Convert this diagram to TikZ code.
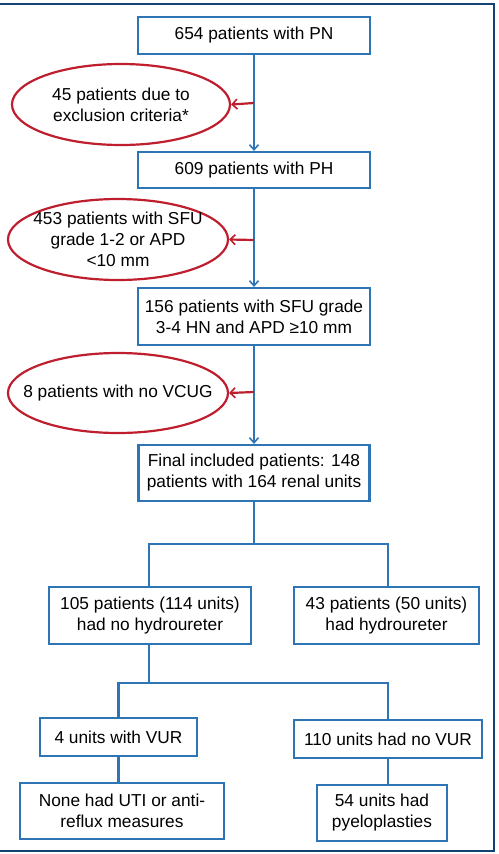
\documentclass[tikz,border=0pt]{standalone}
\usepackage{fontspec}
\setmainfont{Liberation Sans}
\usetikzlibrary{arrows.meta,shapes.geometric}
\definecolor{boxblue}{RGB}{46,117,182}
\definecolor{exred}{RGB}{190,30,45}
\definecolor{framenavy}{RGB}{20,66,115}
\begin{document}
\begin{tikzpicture}[x=1pt,y=-1pt,
  txt/.style={font=\fontsize{17.3}{21}\selectfont, align=center, inner sep=0pt},
  bbox/.style={txt, draw=boxblue, line width=2.2pt, rectangle},
  exell/.style={draw=exred, line width=2.2pt, ellipse, inner sep=0pt},
  flow/.style={draw=boxblue, line width=2.2pt},
  flowarr/.style={flow, -{Straight Barb[length=5pt,width=9pt,line width=1.6pt]}},
  exarr/.style={draw=exred, line width=2.2pt, -{Straight Barb[length=5pt,width=10pt,line width=1.6pt]}}]
\useasboundingbox (0,0) rectangle (498,854);
% frame
\draw[framenavy, line width=1.6pt] (0,4) -- (494,4) -- (494,851) -- (0,851);
% boxes
\node[bbox, minimum width=232, minimum height=37] (b1) at (254,35.5) {654 patients with PN};
\node[bbox, minimum width=232, minimum height=36] (b2) at (254,170) {609 patients with PH};
\node[bbox, minimum width=232, minimum height=57] (b3) at (254,316.5) {156 patients with SFU grade\\3-4 HN and APD ≥10 mm};
\node[bbox, minimum width=231, minimum height=56] (b4) at (254,473) {Final included patients: 148\\patients with 164 renal units};
\node[bbox, minimum width=202, minimum height=57] (b5) at (150,615.5) {105 patients (114 units)\\had no hydroureter};
\node[bbox, minimum width=185, minimum height=57] (b6) at (386.5,615.5) {43 patients (50 units)\\had hydroureter};
\node[bbox, minimum width=157, minimum height=38] (b7) at (118.5,737) {4 units with VUR};
\node[bbox, minimum width=188, minimum height=38] (b8) at (388,739) {110 units had no VUR};
\node[bbox, minimum width=204, minimum height=56] (b9) at (122,811) {None had UTI or anti-\\reflux measures};
\node[bbox, minimum width=130, minimum height=56] (b10) at (382,813) {54 units had\\pyeloplasties};
% ellipses
\node[exell, minimum width=218, minimum height=81] (e1) at (121,104.5) {};
\node[txt] (e1t) at (e1.center) {45 patients due to\\exclusion criteria*};
\node[exell, minimum width=220, minimum height=81] (e2) at (118,239.5) {};
\node[txt] (e2t) at (e2.center) {453 patients with SFU\\grade 1-2 or APD\\<10 mm};
\node[exell, minimum width=220, minimum height=80] (e3) at (118,393) {};
\node[txt] (e3t) at (e3.center) {8 patients with no VCUG};
% main trunk
\draw[flowarr] (b1.south) -- (b2.north);
\draw[flowarr] (b2.south) -- (b3.north);
\draw[flowarr] (b3.south) -- (b4.north);
\coordinate (t1) at (254,103);
\coordinate (t2) at (254,240);
\coordinate (t3) at (254,392);
\draw[exarr] (t1) -- (e1.east);
\draw[exarr] (t2) -- (e2.east);
\draw[exarr] (t3) -- (e3.east);
% branches
\coordinate (j1) at (254,544);
\draw[flow] (b4.south) -- (j1);
\draw[flow] (b5.north -| 149,0) |- (j1) -| (b6.north -| 388,0);
\coordinate (j2) at (149,683);
\draw[flow] (b5.south -| 149,0) -- (j2);
\draw[flow] (b7.north) |- (j2) -| (b8.north);
\draw[flow] (b7.south) -- (b9.north -| b7.south);
\draw[flow] (b8.south) -- (b10.north -| b8.south);
\end{tikzpicture}
\end{document}
